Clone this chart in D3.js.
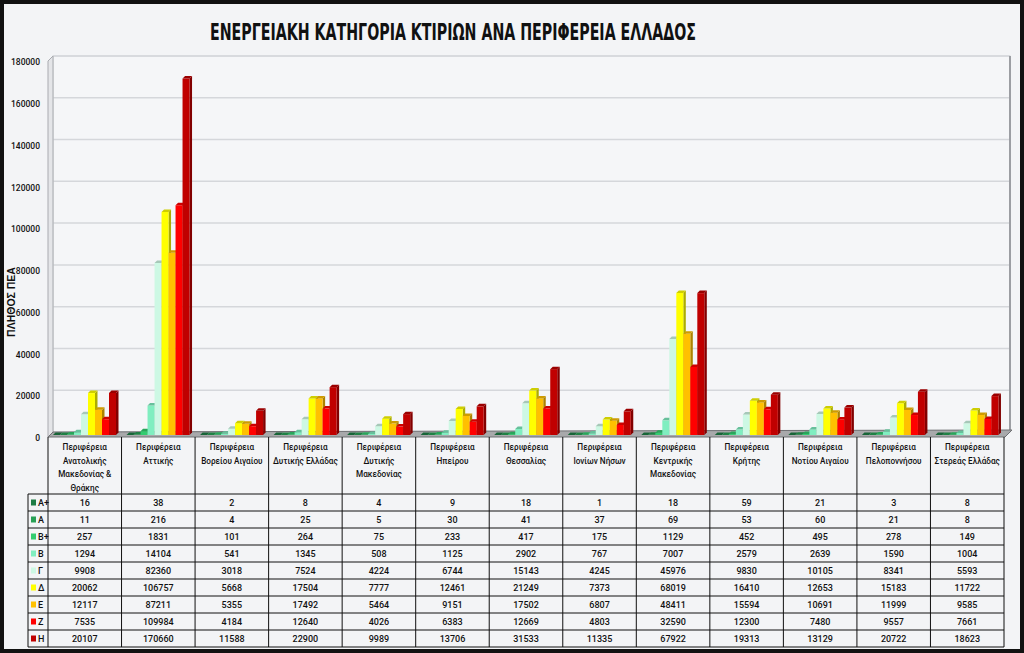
<!DOCTYPE html>
<html>
<head>
<meta charset="utf-8">
<script src="https://cdn.jsdelivr.net/npm/d3@7"></script>
<style>
body { margin: 0; background: #f3f4f6; }
svg { display: block; }
</style>
</head>
<body>
<svg></svg>
<script>
// regions (header of the data table), one entry per line
const regionLabels = [
    ['Περιφέρεια', 'Ανατολικής', 'Μακεδονίας &', 'Θράκης'],
    ['Περιφέρεια', 'Αττικής'],
    ['Περιφέρεια', 'Βορείου Αιγαίου'],
    ['Περιφέρεια', 'Δυτικής Ελλάδας'],
    ['Περιφέρεια', 'Δυτικής', 'Μακεδονίας'],
    ['Περιφέρεια', 'Ηπείρου'],
    ['Περιφέρεια', 'Θεσσαλίας'],
    ['Περιφέρεια', 'Ιονίων Νήσων'],
    ['Περιφέρεια', 'Κεντρικής', 'Μακεδονίας'],
    ['Περιφέρεια', 'Κρήτης'],
    ['Περιφέρεια', 'Νοτίου Αιγαίου'],
    ['Περιφέρεια', 'Πελοποννήσου'],
    ['Περιφέρεια', 'Στερεάς Ελλάδας']
];
const regions = regionLabels.map(d => d.join(' '));

// energy classes and their values per region
const classes = ['Α+', 'Α', 'Β+', 'Β', 'Γ', 'Δ', 'Ε', 'Ζ', 'Η'];
const classColors = ['#1e7d45', '#28a055', '#33cc70', '#80eec0', '#cdf8e4', '#ffff00', '#ffc000', '#ff0000', '#c00000'];

const valuesAplus = [16, 38, 2, 8, 4, 9, 18, 1, 18, 59, 21, 3, 8];
const valuesA     = [11, 216, 4, 25, 5, 30, 41, 37, 69, 53, 60, 21, 8];
const valuesBplus = [257, 1831, 101, 264, 75, 233, 417, 175, 1129, 452, 495, 278, 149];
const valuesB     = [1294, 14104, 541, 1345, 508, 1125, 2902, 767, 7007, 2579, 2639, 1590, 1004];
const valuesG     = [9908, 82360, 3018, 7524, 4224, 6744, 15143, 4245, 45976, 9830, 10105, 8341, 5593];
const valuesD     = [20062, 106757, 5668, 17504, 7777, 12461, 21249, 7373, 68019, 16410, 12653, 15183, 11722];
const valuesE     = [12117, 87211, 5355, 17492, 5464, 9151, 17502, 6807, 48411, 15594, 10691, 11999, 9585];
const valuesZ     = [7535, 109984, 4184, 12640, 4026, 6383, 12669, 4803, 32590, 12300, 7480, 9557, 7661];
const valuesH     = [20107, 170660, 11588, 22900, 9989, 13706, 31533, 11335, 67922, 19313, 13129, 20722, 18623];

const yTicks = [0, 20000, 40000, 60000, 80000, 100000, 120000, 140000, 160000, 180000];

const series = [valuesAplus, valuesA, valuesBplus, valuesB, valuesG, valuesD, valuesE, valuesZ, valuesH]
    .map((vals, i) => ({name: classes[i], color: classColors[i], values: vals}));

// layout
const size = {w: 1024, h: 653};
const plot = {l: 48, r: 1004, t: 61, b: 437};
const depth = 5;          // offset of the back wall (3d look)
const table = {l: 28, top: 494, rowH: 17};
const font = 'Roboto, "Noto Sans", sans-serif';

const svg = d3.select('svg')
    .attr('width', size.w)
    .attr('height', size.h);

// background and black frame
svg.append('rect')
    .attr('x', 2).attr('y', 2)
    .attr('width', size.w - 4).attr('height', size.h - 4)
    .attr('fill', '#f3f4f6')
    .attr('stroke', '#111')
    .attr('stroke-width', 4);

// title
svg.append('text')
    .attr('x', 453).attr('y', 40)
    .attr('text-anchor', 'middle')
    .attr('font-family', '"Liberation Sans Narrow", "DejaVu Sans Condensed", sans-serif')
    .attr('font-weight', 'bold')
    .attr('font-size', 23)
    .attr('textLength', 486)
    .attr('lengthAdjust', 'spacingAndGlyphs')
    .attr('fill', '#111')
    .text('ΕΝΕΡΓΕΙΑΚΗ  ΚΑΤΗΓΟΡΙΑ  ΚΤΙΡΙΩΝ  ΑΝΑ  ΠΕΡΙΦΕΡΕΙΑ  ΕΛΛΑΔΟΣ');

// scales
const y = d3.scaleLinear().domain([0, 180000]).range([plot.b, plot.t]);
const x0 = d3.scaleBand().domain(regions).range([plot.l, plot.r]);
const x1 = d3.scaleBand().domain(classes).range([5, 68]);

// --------- WALLS & FLOOR ----------
const wallG = svg.append('g').classed('walls', true);

// back wall
wallG.append('rect')
    .attr('x', plot.l + depth).attr('y', plot.t - depth)
    .attr('width', plot.r - plot.l + 1).attr('height', plot.b - plot.t)
    .attr('fill', '#f5f6f8')
    .attr('stroke', '#cfd1d5');

// gridlines on the back wall
wallG.selectAll('line.grid')
    .data(yTicks.slice(1))
    .join('line')
    .classed('grid', true)
    .attr('x1', plot.l + depth).attr('x2', plot.r + depth + 1)
    .attr('y1', d => y(d) - depth).attr('y2', d => y(d) - depth)
    .attr('stroke', '#d5d7db')
    .attr('stroke-width', 1.5);

// left wall
wallG.append('polygon')
    .attr('points', `${plot.l},${plot.t} ${plot.l + depth},${plot.t - depth} ${plot.l + depth},${plot.b - depth} ${plot.l},${plot.b}`)
    .attr('fill', '#e4e5e8')
    .attr('stroke', '#a9abb0');

// right edge of the back wall
wallG.append('line')
    .attr('x1', plot.r + depth + 1).attr('x2', plot.r + depth + 1)
    .attr('y1', plot.t - depth).attr('y2', plot.b - depth)
    .attr('stroke', '#9c9ea3')
    .attr('stroke-width', 2);

// floor
wallG.append('polygon')
    .attr('points', `${plot.l},${plot.b} ${plot.r + 1},${plot.b} ${plot.r + depth + 3},${plot.b - depth - 2} ${plot.l + depth},${plot.b - depth}`)
    .attr('fill', '#a8a9ab')
    .attr('stroke', '#6f7073');

// y axis labels
const yAxis = d3.axisLeft(y).tickValues(yTicks).tickSize(0).tickPadding(2).tickFormat(d3.format('d'));
svg.append('g')
    .attr('transform', 'translate(42,1)')
    .call(yAxis)
    .call(g => g.select('.domain').remove())
    .selectAll('text')
    .attr('font-family', font)
    .attr('font-size', 8.5)
    .attr('font-weight', 500)
    .attr('fill', '#111');

svg.append('text')
    .attr('transform', 'translate(15,302) rotate(-90)')
    .attr('text-anchor', 'middle')
    .attr('font-family', '"Liberation Sans", Arial, sans-serif')
    .attr('font-weight', 'bold')
    .attr('font-size', 10.5)
    .attr('fill', '#111')
    .text('ΠΛΗΘΟΣ ΠΕΑ');

// --------- BARS ----------
let barData = [];
regions.forEach((r, i) => {
    series.forEach(s => barData.push({region: r, cls: s.name, color: s.color, value: s.values[i]}));
});

const bw = x1.bandwidth();
const d = 2.5;   // bar depth
const lift = 2;  // bars stand in the middle of the floor

const barsG = svg.append('g').classed('bars', true)
    .selectAll('g')
    .data(barData)
    .join('g')
    .attr('transform', b => `translate(${x0(b.region) + x1(b.cls)},0)`);

// side face
barsG.append('polygon')
    .attr('points', b => {
        let top = y(b.value) - lift, bot = y(0) - lift;
        return `${bw},${bot} ${bw + d},${bot - d} ${bw + d},${top - d} ${bw},${top}`;
    })
    .attr('fill', b => d3.color(b.color).darker(1.1));

// front face
barsG.append('rect')
    .attr('x', 0)
    .attr('y', b => y(b.value) - lift)
    .attr('width', bw)
    .attr('height', b => y(0) - y(b.value))
    .attr('fill', b => b.color);

// top face
barsG.append('polygon')
    .attr('points', b => {
        let top = y(b.value) - lift;
        return `0,${top} ${d},${top - d} ${bw + d},${top - d} ${bw},${top}`;
    })
    .attr('fill', b => d3.color(b.color).darker(0.6));

// --------- DATA TABLE ----------
const tableG = svg.append('g').classed('table', true);
const tableBottom = table.top + classes.length * table.rowH;
const colEdges = regions.map(r => x0(r)).concat([plot.r]);

// header column lines
tableG.selectAll('line.hcol')
    .data(colEdges)
    .join('line')
    .attr('x1', d => d).attr('x2', d => d)
    .attr('y1', plot.b).attr('y2', tableBottom)
    .attr('stroke', '#111');

// row lines
tableG.selectAll('line.row')
    .data(d3.range(classes.length + 1))
    .join('line')
    .attr('x1', table.l).attr('x2', plot.r)
    .attr('y1', i => table.top + i * table.rowH).attr('y2', i => table.top + i * table.rowH)
    .attr('stroke', '#111');

tableG.append('line')
    .attr('x1', table.l).attr('x2', table.l)
    .attr('y1', table.top).attr('y2', tableBottom)
    .attr('stroke', '#111');

// region names
regionLabels.forEach((lines, i) => {
    tableG.append('text')
        .attr('text-anchor', 'middle')
        .attr('font-family', font)
        .attr('font-size', 8.2)
        .attr('font-weight', 500)
        .attr('fill', '#111')
        .selectAll('tspan')
        .data(lines)
        .join('tspan')
        .attr('x', x0(regions[i]) + x0.bandwidth() / 2)
        .attr('y', (t, j) => 450 + j * 13.5)
        .text(t => t);
});

// legend keys and values
series.forEach((s, k) => {
    let cy = table.top + k * table.rowH + table.rowH / 2;
    tableG.append('rect')
        .attr('x', 31).attr('y', cy - 3)
        .attr('width', 5).attr('height', 6)
        .attr('fill', s.color);
    tableG.append('text')
        .attr('x', 38).attr('y', cy + 3)
        .attr('font-family', font)
        .attr('font-size', 9)
        .attr('font-weight', 500)
        .attr('fill', '#111')
        .text(s.name);
    tableG.selectAll(null)
        .data(s.values)
        .join('text')
        .attr('x', (v, i) => x0(regions[i]) + x0.bandwidth() / 2)
        .attr('y', cy + 3.2)
        .attr('text-anchor', 'middle')
        .attr('font-family', font)
        .attr('font-size', 9)
        .attr('font-weight', 500)
        .attr('fill', '#111')
        .text(v => v);
});
</script>
</body>
</html>
